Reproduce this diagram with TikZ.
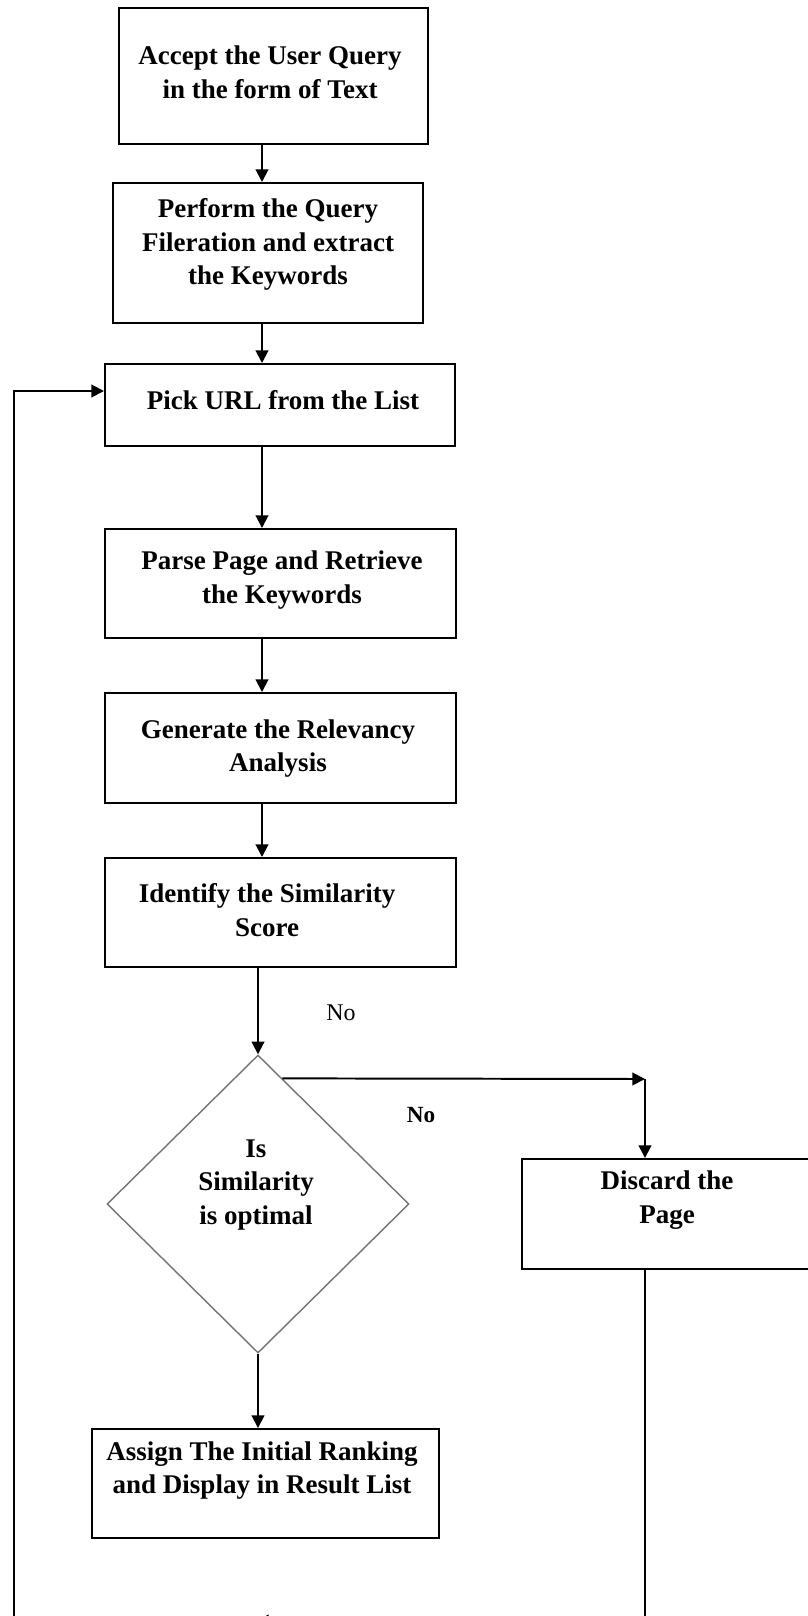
\documentclass[tikz,border=0pt]{standalone}
\usepackage{fontspec}
\setmainfont{Liberation Serif}
\usetikzlibrary{shapes.geometric,arrows.meta}
\newcommand{\pxu}{0.025cm}
\tikzset{
  box/.style={draw, line width=1.4pt, inner sep=0},
  txt/.style={align=center, inner sep=0, font=\fontsize{19.2}{24}\selectfont\bfseries},
  arr/.style={draw, line width=1.4pt, -{Triangle[length=9pt,width=9pt]}},
}
\begin{document}
\begin{tikzpicture}[x=0.025cm, y=-0.025cm]
\useasboundingbox (0,0) rectangle (808,1616);
%boxes
\foreach \nm/\xa/\ya/\xb/\yb in {accept/119/8/428/144, filter/113/183/423/323, pick/105/364/455/446, parse/105/529/456/638, relev/105/693/456/803, idsim/105/858/456/967, discard/522/1159/840/1269, assign/92/1429/439/1538}{
    \node[box, minimum width={(\xb-\xa)*\pxu}, minimum height={(\yb-\ya)*\pxu}] (\nm) at ({(\xa+\xb)/2},{(\ya+\yb)/2}) {};
}
\node[diamond, draw=black!55, line width=1pt, inner sep=0, minimum width={302*\pxu}, minimum height={298*\pxu}] (chk) at (258,1204) {};

%texts
\foreach \nm/\x/\y/\t in {acceptT/270/72.5/{Accept the User Query\\in the form of Text}, filterT/268/244.5/{Perform the Query\\Fileration and extract\\the Keywords}, pickT/283/400/{Pick URL from the List}, parseT/282/580/{Parse Page and Retrieve\\the Keywords}, relevT/278/748.5/{Generate the Relevancy\\Analysis}, idsimT/267/910/{Identify the Similarity\\Score}, discardT/667/1200/{Discard the\\Page}, assignT/262/1470.5/{Assign The Initial Ranking\\and Display in Result List}, chkT/256/1185/{Is\\Similarity\\is optimal}}{
    \node[txt] (\nm) at (\x,\y) {\t};
}
\node[font=\fontsize{17}{20}\selectfont] (noA) at (341,1013) {No};
\node[font=\fontsize{16.5}{20}\selectfont\bfseries] (noB) at (421,1115) {No};

%connectors
\coordinate (spine) at (262,0);
\coordinate (turn) at (645,1079);
\coordinate (back) at (256,1621);
\coordinate (low) at (14,1621);
\coordinate (entry) at (14,391);
\foreach \a/\b in {accept/filter, filter/pick, pick/parse, parse/relev, relev/idsim}{
    \draw[arr] (\a.south -| spine) -- (\b.north -| spine);
}
\draw[arr] (idsim.south -| chk.north) -- (chk.north);
\draw[arr] (chk.79) -- (turn);
\draw[arr] (turn) -- (discard.north -| turn);
\draw[arr] (chk.south) -- (assign.north -| chk.south);
\draw[arr] (discard.south -| turn) -- (turn |- back) -- (back);
\draw[arr] (low) -- (entry) -- (entry -| pick.west);
\end{tikzpicture}
\end{document}
